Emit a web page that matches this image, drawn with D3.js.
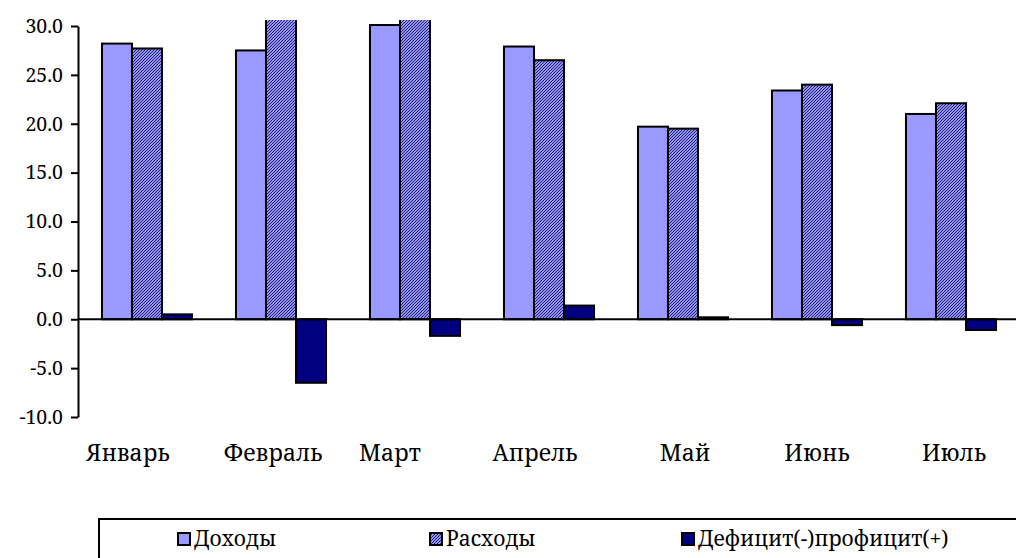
<!DOCTYPE html>
<html>
<head>
<meta charset="utf-8">
<script src="https://cdn.jsdelivr.net/npm/d3@7"></script>
<style>
  body { margin: 0; background: #fff; }
  svg { display: block; }
  svg text { font-family: 'Noto Serif', serif; fill: #000; }
</style>
</head>
<body>
<script>
// data
const months = ['Январь', 'Февраль', 'Март', 'Апрель', 'Май', 'Июнь', 'Июль']
const seriesNames = ['Доходы', 'Расходы', 'Дефицит(-)профицит(+)']
const incomes = [28.2, 27.5, 30.1, 27.9, 19.7, 23.4, 21.0]
const expenses = [27.7, 34.0, 31.8, 26.5, 19.5, 24.0, 22.1]
const balance = [0.5, -6.5, -1.7, 1.4, 0.2, -0.6, -1.1]
const yTicks = [-10, -5, 0, 5, 10, 15, 20, 25, 30]

// label nudges (labels in the original are not centred on the groups)
const labelShift = [-19, -8, -25, -14, 2, 0, 3]

const w = 1016
const h = 558

const svg = d3.select('body')
    .append('svg')
    .attr('width', w)
    .attr('height', h)

const defs = svg.append('defs')

// hatch for the expenses bars
const hatch = defs.append('pattern')
    .attr('id', 'hatch')
    .attr('patternUnits', 'userSpaceOnUse')
    .attr('width', 3)
    .attr('height', 3)
hatch.append('rect').attr('width', 3).attr('height', 3).attr('fill', '#fff')
hatch.append('path')
    .attr('d', 'M-1,1 l2,-2 M0,3 l3,-3 M2,4 l2,-2')
    .attr('stroke', '#2020a8')
    .attr('stroke-width', 1.4)

defs.append('clipPath')
    .attr('id', 'plotclip')
    .append('rect')
    .attr('x', 0).attr('y', 20).attr('width', w).attr('height', h)

const fills = ['#9999ff', 'url(#hatch)', '#000080']

// scales
const x = d3.scaleBand()
    .domain(months)
    .range([80, 1018])
    .paddingInner(0.328)
    .paddingOuter(0.164)

const xs = d3.scaleBand()
    .domain(seriesNames)
    .range([0, x.bandwidth()])

const y = d3.scaleLinear()
    .domain([-10, 30])
    .range([417, 26])

const rows = months.map((m, i) => ({
    month: m,
    values: [incomes[i], expenses[i], balance[i]]
}))

// bars
const bars = svg.append('g')
    .attr('clip-path', 'url(#plotclip)')

bars.selectAll('g')
    .data(rows)
    .enter()
    .append('g')
    .attr('transform', d => `translate(${x(d.month)},0)`)
    .selectAll('rect')
    .data(d => d.values.map((v, k) => ({ v: v, k: k })))
    .enter()
    .append('rect')
    .attr('x', d => xs(seriesNames[d.k]))
    .attr('width', xs.bandwidth())
    .attr('y', d => y(Math.max(0, d.v)))
    .attr('height', d => Math.abs(y(d.v) - y(0)))
    .attr('fill', d => fills[d.k])
    .attr('stroke', '#000')
    .attr('stroke-width', 2)

// y axis
const fmt = d3.format('.1f')
const yAxis = d3.axisLeft(y)
    .tickValues(yTicks)
    .tickFormat(d => fmt(d).replace('\u2212', '-'))
    .tickSize(7)
    .tickSizeOuter(0)
    .tickPadding(8)

const ya = svg.append('g')
    .attr('transform', 'translate(78,0)')
    .call(yAxis)
ya.select('.domain').attr('stroke-width', 2)
ya.selectAll('.tick line').attr('stroke-width', 2)
ya.selectAll('.tick text')
    .style('font-family', "'Noto Serif', serif")
    .style('font-size', '19.5px')

// zero line
svg.append('line')
    .attr('x1', 78)
    .attr('x2', 1016)
    .attr('y1', y(0))
    .attr('y2', y(0))
    .attr('stroke', '#000')
    .attr('stroke-width', 2)

// month labels
svg.append('g')
    .selectAll('text')
    .data(months)
    .enter()
    .append('text')
    .attr('x', (d, i) => x(d) + x.bandwidth() / 2 + labelShift[i])
    .attr('y', 461)
    .attr('text-anchor', 'middle')
    .style('font-size', '23px')
    .text(d => d)

// legend
const legend = svg.append('g')
    .attr('transform', 'translate(99,519)')

legend.append('rect')
    .attr('width', 1000)
    .attr('height', 100)
    .attr('fill', '#fff')
    .attr('stroke', '#000')
    .attr('stroke-width', 2)

const item = legend.selectAll('.item')
    .data(seriesNames)
    .enter()
    .append('g')
    .attr('class', 'item')
    .attr('transform', (d, i) => `translate(${79 + i * 252},14)`)

item.append('rect')
    .attr('width', 12)
    .attr('height', 12)
    .attr('fill', (d, i) => fills[i])
    .attr('stroke', '#000')
    .attr('stroke-width', 2)

item.append('text')
    .attr('x', 16)
    .attr('y', 13)
    .style('font-size', '21px')
    .text(d => d)
</script>
</body>
</html>
